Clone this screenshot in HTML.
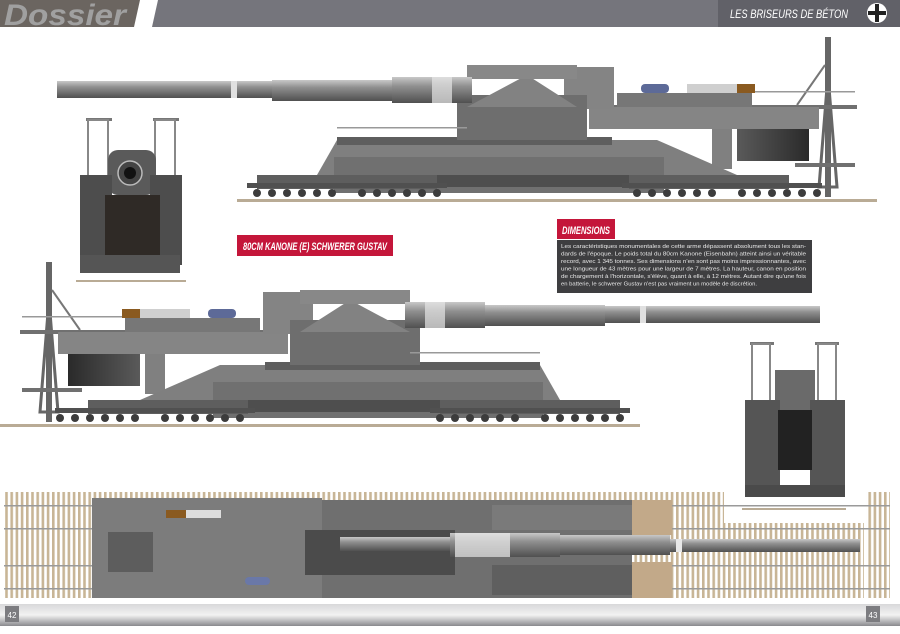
<!DOCTYPE html>
<html><head><meta charset="utf-8"><style>
html,body{margin:0;padding:0;background:#fff;}
body{width:900px;height:629px;overflow:hidden;font-family:"Liberation Sans",sans-serif;}
</style></head><body>
<svg width="900" height="629" viewBox="0 0 900 629" xmlns="http://www.w3.org/2000/svg">
<defs>
<linearGradient id="bar" x1="0" y1="0" x2="0" y2="1"><stop offset="0" stop-color="#d8d8da"/><stop offset=".5" stop-color="#f2f2f2"/><stop offset="1" stop-color="#8a8a8e"/></linearGradient>
<linearGradient id="barrel" x1="0" y1="0" x2="0" y2="1"><stop offset="0" stop-color="#c8c8c8"/><stop offset=".35" stop-color="#909090"/><stop offset="1" stop-color="#505050"/></linearGradient>
<linearGradient id="dark" x1="0" y1="0" x2="1" y2="0"><stop offset="0" stop-color="#2a2a2a"/><stop offset="1" stop-color="#5a5a5a"/></linearGradient>
<pattern id="ties" width="5.2" height="10" patternUnits="userSpaceOnUse"><rect x="0" y="0" width="2.6" height="10" fill="#c8b596"/></pattern>
<g id="side">
  <rect x="0" y="424" width="640" height="3" fill="#b9ab95"/>
  <rect x="46" y="262" width="6" height="160" fill="#666"/>
  <path d="M40 412 L49 300 L58 412 Z" fill="none" stroke="#666" stroke-width="3"/>
  <line x1="52" y1="290" x2="80" y2="330" stroke="#777" stroke-width="2"/>
  <rect x="22" y="316" width="110" height="1.5" fill="#999"/>
  <rect x="20" y="330" width="275" height="4" fill="#707070"/>
  <rect x="22" y="388" width="60" height="4" fill="#707070"/>
  <rect x="58" y="332" width="230" height="22" fill="#858585"/>
  <rect x="68" y="354" width="72" height="32" fill="url(#dark)"/>
  <rect x="145" y="354" width="20" height="40" fill="#808080"/>
  <rect x="122" y="309" width="18" height="9" fill="#8a5a20"/>
  <rect x="140" y="309" width="50" height="9" fill="#cfcfcf"/>
  <rect x="208" y="309" width="28" height="9" rx="4" fill="#5d6a98"/>
  <rect x="125" y="318" width="135" height="14" fill="#777"/>
  <path d="M140 400 L220 365 L540 365 L560 400 Z" fill="#7f7f7f"/>
  <rect x="265" y="362" width="275" height="8" fill="#5e5e5e"/>
  <rect x="213" y="382" width="330" height="36" fill="#707070"/>
  <rect x="215" y="400" width="328" height="12" fill="#4e4e4e"/>
  <rect x="263" y="292" width="50" height="42" fill="#848484"/>
  <rect x="290" y="320" width="130" height="45" fill="#6e6e6e"/>
  <path d="M300 332 L350 300 L410 332 Z" fill="#828282"/>
  <rect x="300" y="290" width="110" height="14" fill="#888"/>
  <rect x="405" y="302" width="80" height="26" fill="url(#barrel)"/>
  <rect x="485" y="305" width="120" height="21" fill="url(#barrel)"/>
  <rect x="605" y="306" width="215" height="17" fill="url(#barrel)"/>
  <rect x="640" y="306" width="6" height="17" fill="#e0e0e0"/>
  <rect x="425" y="302" width="20" height="26" fill="#e5e5e5" opacity=".7"/>
  <rect x="410" y="352" width="130" height="1.5" fill="#999"/>
  <rect x="88" y="400" width="160" height="14" fill="#5e5e5e"/>
  <rect x="440" y="400" width="180" height="14" fill="#5e5e5e"/>
  <rect x="55" y="408" width="200" height="5" fill="#505050"/>
  <rect x="430" y="408" width="200" height="5" fill="#505050"/>
  <g fill="#3c3c3c">
    <circle cx="60" cy="418" r="4"/><circle cx="75" cy="418" r="4"/><circle cx="90" cy="418" r="4"/><circle cx="105" cy="418" r="4"/><circle cx="120" cy="418" r="4"/><circle cx="135" cy="418" r="4"/><circle cx="165" cy="418" r="4"/><circle cx="180" cy="418" r="4"/><circle cx="195" cy="418" r="4"/><circle cx="210" cy="418" r="4"/><circle cx="225" cy="418" r="4"/><circle cx="240" cy="418" r="4"/>
    <circle cx="440" cy="418" r="4"/><circle cx="455" cy="418" r="4"/><circle cx="470" cy="418" r="4"/><circle cx="485" cy="418" r="4"/><circle cx="500" cy="418" r="4"/><circle cx="515" cy="418" r="4"/><circle cx="545" cy="418" r="4"/><circle cx="560" cy="418" r="4"/><circle cx="575" cy="418" r="4"/><circle cx="590" cy="418" r="4"/><circle cx="605" cy="418" r="4"/><circle cx="620" cy="418" r="4"/>
  </g>
</g>
</defs>

<rect x="0" y="0" width="900" height="27" fill="#75757c"/>
<rect x="0" y="0" width="145" height="27" fill="#6b6560"/>
<polygon points="140,0 158,0 152,27 134,27" fill="#fff"/>
<text x="4" y="25" font-size="30" font-style="italic" font-weight="bold" fill="#a0a0a0" textLength="122" lengthAdjust="spacingAndGlyphs">Dossier</text>
<rect x="718" y="0" width="182" height="27" fill="#616168"/>
<text x="730" y="18" font-size="12" font-style="italic" fill="#fff" textLength="118" lengthAdjust="spacingAndGlyphs">LES BRISEURS DE BÉTON</text>
<circle cx="877" cy="13" r="10" fill="#fff"/>
<rect x="875" y="4" width="4" height="18" fill="#222"/><rect x="868" y="11" width="18" height="4" fill="#222"/>

<use href="#side" transform="translate(877,-225) scale(-1,1)"/>

<g>
  <rect x="86" y="118" width="26" height="3" fill="#777"/><rect x="153" y="118" width="26" height="3" fill="#777"/>
  <rect x="88" y="120" width="20" height="60" fill="none" stroke="#888" stroke-width="2"/>
  <rect x="155" y="120" width="20" height="60" fill="none" stroke="#888" stroke-width="2"/>
  <rect x="108" y="150" width="48" height="45" rx="10" fill="#5a5a5a"/>
  <circle cx="130" cy="173" r="12" fill="#444" stroke="#bbb" stroke-width="1.5"/>
  <circle cx="130" cy="173" r="6" fill="#111"/>
  <rect x="80" y="175" width="32" height="90" fill="#4d4d4d"/>
  <rect x="150" y="175" width="32" height="90" fill="#4d4d4d"/>
  <rect x="105" y="195" width="55" height="75" fill="#2f2a26"/>
  <rect x="80" y="255" width="100" height="18" fill="#555"/>
  <rect x="76" y="280" width="110" height="2" fill="#b9ab95"/>
</g>

<rect x="237" y="235" width="156" height="21" fill="#c4163a"/>
<text x="243" y="250" font-size="11" font-style="italic" font-weight="bold" fill="#fff" textLength="144" lengthAdjust="spacingAndGlyphs">80CM KANONE (E) SCHWERER GUSTAV</text>

<rect x="557" y="219" width="58" height="20" fill="#c4163a"/>
<text x="562" y="234" font-size="11" font-style="italic" font-weight="bold" fill="#fff" textLength="48" lengthAdjust="spacingAndGlyphs">DIMENSIONS</text>
<rect x="557" y="240" width="255" height="53" fill="#3e3e40"/>
<g font-size="5.6" fill="#e8e8e8" lengthAdjust="spacingAndGlyphs">
<text x="561" y="248" textLength="245" lengthAdjust="spacingAndGlyphs">Les caractéristiques monumentales de cette arme dépassent absolument tous les stan-</text>
<text x="561" y="255.5" textLength="245" lengthAdjust="spacingAndGlyphs">dards de l'époque. Le poids total du 80cm Kanone (Eisenbahn) atteint ainsi un véritable</text>
<text x="561" y="263" textLength="245" lengthAdjust="spacingAndGlyphs">record, avec 1 345 tonnes. Ses dimensions n'en sont pas moins impressionnantes, avec</text>
<text x="561" y="270.5" textLength="245" lengthAdjust="spacingAndGlyphs">une longueur de 43 mètres pour une largeur de 7 mètres. La hauteur, canon en position</text>
<text x="561" y="278" textLength="245" lengthAdjust="spacingAndGlyphs">de chargement à l'horizontale, s'élève, quant à elle, à 12 mètres. Autant dire qu'une fois</text>
<text x="561" y="285.5" textLength="196" lengthAdjust="spacingAndGlyphs">en batterie, le schwerer Gustav n'est pas vraiment un modèle de discrétion.</text>
</g>

<use href="#side"/>

<g>
  <rect x="750" y="342" width="24" height="3" fill="#777"/><rect x="815" y="342" width="24" height="3" fill="#777"/>
  <rect x="752" y="344" width="18" height="60" fill="none" stroke="#888" stroke-width="2"/>
  <rect x="818" y="344" width="18" height="60" fill="none" stroke="#888" stroke-width="2"/>
  <rect x="775" y="370" width="40" height="40" fill="#6a6a6a"/>
  <rect x="745" y="400" width="35" height="90" fill="#555"/>
  <rect x="810" y="400" width="35" height="90" fill="#555"/>
  <rect x="778" y="410" width="34" height="60" fill="#222"/>
  <rect x="745" y="485" width="100" height="12" fill="#4a4a4a"/>
  <rect x="742" y="508" width="104" height="2" fill="#b9ab95"/>
</g>

<rect x="4" y="492" width="720" height="106" fill="url(#ties)"/>
<rect x="724" y="523" width="140" height="75" fill="url(#ties)"/>
<rect x="866" y="492" width="24" height="106" fill="url(#ties)"/>
<g fill="#9a9a9a"><rect x="4" y="505" width="886" height="1.5"/><rect x="4" y="528" width="886" height="1.5"/><rect x="4" y="565" width="886" height="1.5"/><rect x="4" y="588" width="886" height="1.5"/></g>
<rect x="92" y="498" width="230" height="100" fill="#7c7c7c"/>
<rect x="108" y="532" width="45" height="40" fill="#5d5d5d"/>
<rect x="322" y="500" width="310" height="98" fill="#6f6f6f"/>
<rect x="492" y="505" width="140" height="25" fill="#7a7a7a"/>
<rect x="492" y="565" width="140" height="30" fill="#5f5f5f"/>
<rect x="305" y="530" width="150" height="45" fill="#4b4b4b"/>
<rect x="632" y="500" width="40" height="35" fill="#c2a989"/>
<rect x="632" y="562" width="40" height="36" fill="#c2a989"/>
<rect x="166" y="510" width="20" height="8" fill="#8a5a20"/><rect x="186" y="510" width="35" height="8" fill="#ddd"/>
<rect x="245" y="577" width="25" height="8" rx="4" fill="#6a78a8"/>
<rect x="340" y="537" width="110" height="14" fill="url(#barrel)"/>
<rect x="450" y="533" width="110" height="24" fill="url(#barrel)"/>
<rect x="455" y="533" width="55" height="24" fill="#e6e6e6" opacity=".75"/>
<rect x="560" y="535" width="110" height="20" fill="url(#barrel)"/>
<rect x="670" y="539" width="190" height="13" fill="url(#barrel)"/>
<rect x="676" y="539" width="6" height="13" fill="#e8e8e8"/>

<rect x="0" y="604" width="900" height="22" fill="url(#bar)"/>
<rect x="5" y="606" width="14" height="16" fill="#7c7c80"/>
<text x="12" y="618" font-size="8" fill="#fff" text-anchor="middle">42</text>
<rect x="866" y="606" width="14" height="16" fill="#7c7c80"/>
<text x="873" y="618" font-size="8" fill="#fff" text-anchor="middle">43</text>
</svg>
</body></html>
